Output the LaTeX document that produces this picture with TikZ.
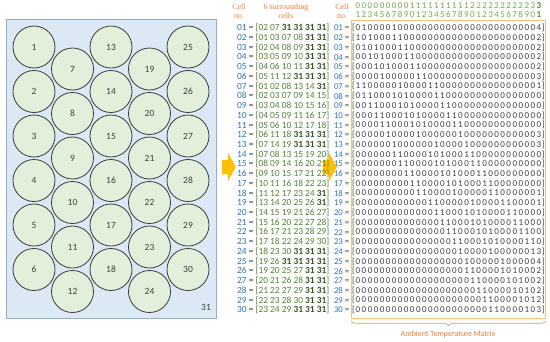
\documentclass[tikz,border=0pt]{standalone}
\usepackage{fontspec}
\setmainfont{Carlito}
\newfontfamily\hdfont{Liberation Serif}
\usetikzlibrary{decorations.pathreplacing}
\definecolor{panelfill}{HTML}{DCE9F5}
\definecolor{panelline}{HTML}{8FAFCB}
\definecolor{cellfill}{HTML}{E2EFDA}
\definecolor{cellline}{HTML}{3B3B3B}
\definecolor{rowblue}{HTML}{2E75B6}
\definecolor{nbgreen}{HTML}{548235}
\definecolor{darkg}{HTML}{375623}
\definecolor{hdorange}{HTML}{ED7D31}
\definecolor{boxline}{HTML}{F0C27B}
\definecolor{gold}{HTML}{FFC000}
\definecolor{digitgray}{HTML}{3F3F3F}
\definecolor{hdgreen}{HTML}{70AD47}
\newcommand\Nb[1]{\ifnum#1=31\relax\textbf{\textcolor{darkg}{31}}\else#1\fi}
\newcommand\Lrow[7]{\textcolor{rowblue}{#1} \textcolor{digitgray}{=} \textcolor{nbgreen}{[\Nb{#2} \Nb{#3} \Nb{#4} \Nb{#5} \Nb{#6} \Nb{#7}]}}
\def\Sp#1{\ifx#1\relax\else\makebox[6.03pt]{#1}\expandafter\Sp\fi}
\tikzset{
  cellc/.style={circle, draw=cellline, fill=cellfill, line width=0.8pt, minimum size=42pt, inner sep=0pt, text=digitgray, font=\fontsize{9.5}{10}\selectfont},
  lrow/.style={anchor=west, inner sep=0pt, font=\fontsize{9.4}{10}\selectfont},
  mrow/.style={anchor=west, inner sep=0pt, text=digitgray, font=\fontsize{9}{10}\selectfont},
  mlab/.style={anchor=east, inner sep=0pt, text=digitgray, font=\fontsize{8.8}{10}\selectfont},
  hdr/.style={align=center, inner sep=0pt, text=hdorange, font=\hdfont\fontsize{8}{9}\selectfont},
  blockarrow/.style={fill=gold, draw=gold!85!orange, line width=0.4pt}
}
\begin{document}
\begin{tikzpicture}[x=1pt, y=-1pt]
\useasboundingbox (0,0) rectangle (550,341);
% left panel
\node[draw=panelline, fill=panelfill, line width=0.8pt, minimum width=210pt, minimum height=299pt, anchor=north west, inner sep=0pt] (panel) at (6,19) {};
\foreach \n/\x/\y in {1/34/47, 2/34/91.5, 3/34/136, 4/34/180.5, 5/34/225, 6/34/269.5,
  7/72.5/69, 8/72.5/113.5, 9/72.5/158, 10/72.5/202.5, 11/72.5/247, 12/72.5/291.5,
  13/111/47, 14/111/91.5, 15/111/136, 16/111/180.5, 17/111/225, 18/111/269.5,
  19/149.5/69, 20/149.5/113.5, 21/149.5/158, 22/149.5/202.5, 23/149.5/247, 24/149.5/291.5,
  25/188/47, 26/188/91.5, 27/188/136, 28/188/180.5, 29/188/225, 30/188/269.5}
  \node[cellc] (c\n) at (\x,\y) {\n};
\node[text=digitgray, inner sep=0pt, font=\fontsize{9.5}{10}\selectfont] (amb) at (206,307) {31};
% arrows
\fill[blockarrow] (222,160) -- (228,160) -- (228,153.5) -- (235.5,167) -- (228,180.5) -- (228,174) -- (222,174) -- cycle;
\fill[blockarrow] (323,160) -- (329,160) -- (329,153.5) -- (336.5,167) -- (329,180.5) -- (329,174) -- (323,174) -- cycle;
% headers
\node[hdr] (h1) at (239,11) {Cell\\no.};
\node[hdr] (h2) at (286,11) {6 surrounding\\cells};
\node[hdr] (h3) at (342,11) {Cell\\no.};
\node[anchor=west, inner sep=0pt, text=hdgreen, font=\fontsize{9}{10}\selectfont] (hd1) at (354.7,6) {\Sp 000000000111111111122222222223\relax\makebox[6.03pt]{\textbf{\textcolor{nbgreen}{3}}}};
\node[anchor=west, inner sep=0pt, text=hdgreen, font=\fontsize{9}{10}\selectfont] (hd2) at (354.7,14.5) {\Sp 123456789012345678901234567890\relax\makebox[6.03pt]{\textbf{\textcolor{nbgreen}{1}}}};
% matrix box
\node[draw=boxline, line width=0.8pt, minimum width=194pt, minimum height=298pt, anchor=north west, inner sep=0pt] (mbox) at (351,20) {};
\draw[decorate, decoration={brace, amplitude=5pt, mirror}, hdorange!80, line width=0.7pt] ([yshift=-2pt]mbox.south west) -- ([yshift=-2pt]mbox.south east);
\node[text=hdorange, inner sep=0pt, font=\fontsize{8}{9}\selectfont] (atm) at (448,334) {Ambient Temperature Matrix};
% rows
\foreach \n/\a/\b/\c/\d/\e/\f/\bits [count=\i] in {
01/02/07/31/31/31/31/0100001000000000000000000000004,
02/01/03/07/08/31/31/1010001100000000000000000000002,
03/02/04/08/09/31/31/0101000110000000000000000000002,
04/03/05/09/10/31/31/0010100011000000000000000000002,
05/04/06/10/11/31/31/0001010001100000000000000000002,
06/05/11/12/31/31/31/0000100000110000000000000000003,
07/01/02/08/13/14/31/1100000100001100000000000000001,
08/02/03/07/09/14/15/0110001010000110000000000000000,
09/03/04/08/10/15/16/0011000101000011000000000000000,
10/04/05/09/11/16/17/0001100010100001100000000000000,
11/05/06/10/12/17/18/0000110001010000110000000000000,
12/06/11/18/31/31/31/0000010000100000010000000000003,
13/07/14/19/31/31/31/0000001000000100001000000000003,
14/07/08/13/15/19/20/0000001100001010001100000000000,
15/08/09/14/16/20/21/0000000110000101000110000000000,
16/09/10/15/17/21/22/0000000011000010100011000000000,
17/10/11/16/18/22/23/0000000001100001010001100000000,
18/11/12/17/23/24/31/0000000000110000100000110000001,
19/13/14/20/25/26/31/0000000000001100000100001100001,
20/14/15/19/21/26/27/0000000000000110001010000110000,
21/15/16/20/22/27/28/0000000000000011000101000011000,
22/16/17/21/23/28/29/0000000000000001100010100001100,
23/17/18/22/24/29/30/0000000000000000110001010000110,
24/18/23/30/31/31/31/0000000000000000010000100000013,
25/19/26/31/31/31/31/0000000000000000001000001000004,
26/19/20/25/27/31/31/0000000000000000001100001010002,
27/20/21/26/28/31/31/0000000000000000000110000101002,
28/21/22/27/29/31/31/0000000000000000000011000010102,
29/22/23/28/30/31/31/0000000000000000000001100001012,
30/23/24/29/31/31/31/0000000000000000000000110000103}{
  \pgfmathsetmacro\yy{28+(\i-1)*9.724}
  \node[lrow] (l\n) at (237,\yy) {\Lrow{\n}{\a}{\b}{\c}{\d}{\e}{\f}};
  \node[mlab] (ml\n) at (349.5,\yy) {\textcolor{rowblue}{\n} =};
  \node[mrow] (m\n) at (352,\yy) {[\expandafter\Sp\bits\relax]};
}
\end{tikzpicture}
\end{document}
